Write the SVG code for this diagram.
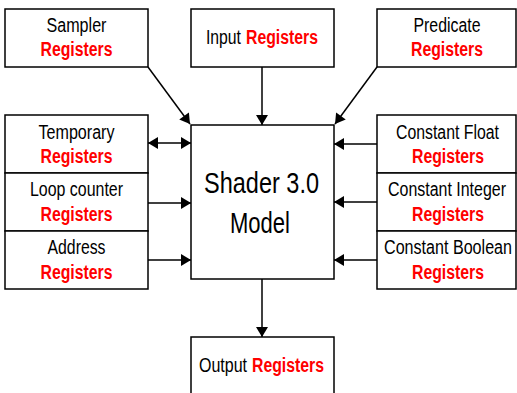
<svg xmlns="http://www.w3.org/2000/svg" width="517" height="393" viewBox="0 0 517 393">
<defs>
<style>
.box{fill:#fff;stroke:#000;stroke-width:1.5}
.t{font-family:"Liberation Sans",Arial,sans-serif;font-size:19.5px;fill:#000;text-anchor:middle}
.r{font-family:"Liberation Sans",Arial,sans-serif;font-size:19.5px;font-weight:bold;fill:#ff0000;text-anchor:middle}
.s{text-anchor:start}
.big{font-family:"Liberation Sans",Arial,sans-serif;font-size:30px;fill:#000;text-anchor:middle}
.c{stroke:#000;stroke-width:1.5;fill:none}
</style>
<marker id="ah" markerUnits="userSpaceOnUse" markerWidth="12" markerHeight="12" viewBox="0 0 10 12" refX="10" refY="6" orient="auto-start-reverse">
<path d="M0,0 L10,6 L0,12 Z" fill="#000"/>
</marker>
</defs>
<g id="connectors">
<line class="c" x1="148" y1="67" x2="190" y2="124" marker-end="url(#ah)"/>
<line class="c" x1="262" y1="67" x2="262" y2="125" marker-end="url(#ah)"/>
<line class="c" x1="377" y1="67" x2="335" y2="124" marker-end="url(#ah)"/>
<line class="c" x1="148" y1="143" x2="191" y2="143" marker-start="url(#ah)" marker-end="url(#ah)"/>
<line class="c" x1="148" y1="203" x2="191" y2="203" marker-end="url(#ah)"/>
<line class="c" x1="148" y1="260" x2="191" y2="260" marker-end="url(#ah)"/>
<line class="c" x1="377" y1="144" x2="334" y2="144" marker-end="url(#ah)"/>
<line class="c" x1="377" y1="202" x2="334" y2="202" marker-end="url(#ah)"/>
<line class="c" x1="377" y1="260" x2="334" y2="260" marker-end="url(#ah)"/>
<line class="c" x1="262" y1="279" x2="262" y2="337" marker-end="url(#ah)"/>
</g>
<g id="sampler">
<rect class="box" x="5" y="9" width="143" height="58"/>
<text class="t" x="76.5" y="32" textLength="60" lengthAdjust="spacingAndGlyphs">Sampler</text>
<text class="r" x="76.5" y="55.5" textLength="72" lengthAdjust="spacingAndGlyphs">Registers</text>
</g>
<g id="input">
<rect class="box" x="191" y="9" width="143" height="58"/>
<text class="t s" x="206" y="44" textLength="35" lengthAdjust="spacingAndGlyphs">Input</text>
<text class="r s" x="246" y="44" textLength="72" lengthAdjust="spacingAndGlyphs">Registers</text>
</g>
<g id="predicate">
<rect class="box" x="377" y="9" width="139" height="58"/>
<text class="t" x="447" y="32" textLength="67" lengthAdjust="spacingAndGlyphs">Predicate</text>
<text class="r" x="447" y="55.5" textLength="72" lengthAdjust="spacingAndGlyphs">Registers</text>
</g>
<g id="temporary">
<rect class="box" x="5" y="115" width="143" height="58"/>
<text class="t" x="76.5" y="138.5" textLength="76" lengthAdjust="spacingAndGlyphs">Temporary</text>
<text class="r" x="76.5" y="163" textLength="72" lengthAdjust="spacingAndGlyphs">Registers</text>
</g>
<g id="loop">
<rect class="box" x="5" y="173" width="143" height="58"/>
<text class="t" x="76.5" y="196" textLength="93" lengthAdjust="spacingAndGlyphs">Loop counter</text>
<text class="r" x="76.5" y="220.5" textLength="72" lengthAdjust="spacingAndGlyphs">Registers</text>
</g>
<g id="address">
<rect class="box" x="5" y="231" width="143" height="58"/>
<text class="t" x="76.5" y="254" textLength="58" lengthAdjust="spacingAndGlyphs">Address</text>
<text class="r" x="76.5" y="278.5" textLength="72" lengthAdjust="spacingAndGlyphs">Registers</text>
</g>
<g id="cfloat">
<rect class="box" x="377" y="115" width="139" height="58"/>
<text class="t" x="447.5" y="138.5" textLength="103" lengthAdjust="spacingAndGlyphs">Constant Float</text>
<text class="r" x="448" y="163" textLength="72" lengthAdjust="spacingAndGlyphs">Registers</text>
</g>
<g id="cint">
<rect class="box" x="377" y="173" width="139" height="58"/>
<text class="t" x="447" y="196" textLength="118" lengthAdjust="spacingAndGlyphs">Constant Integer</text>
<text class="r" x="448" y="220.5" textLength="72" lengthAdjust="spacingAndGlyphs">Registers</text>
</g>
<g id="cbool">
<rect class="box" x="377" y="231" width="139" height="58"/>
<text class="t" x="448" y="254" textLength="128" lengthAdjust="spacingAndGlyphs">Constant Boolean</text>
<text class="r" x="448" y="278.5" textLength="72" lengthAdjust="spacingAndGlyphs">Registers</text>
</g>
<g id="shader">
<rect class="box" x="191" y="125" width="143" height="154"/>
<text class="big" x="261.5" y="193" textLength="115" lengthAdjust="spacingAndGlyphs">Shader 3.0</text>
<text class="big" x="260" y="233" textLength="60" lengthAdjust="spacingAndGlyphs">Model</text>
</g>
<g id="output">
<rect class="box" x="191" y="337" width="143" height="70"/>
<text class="t s" x="199" y="372" textLength="48" lengthAdjust="spacingAndGlyphs">Output</text>
<text class="r s" x="252" y="372" textLength="72" lengthAdjust="spacingAndGlyphs">Registers</text>
</g>
</svg>
